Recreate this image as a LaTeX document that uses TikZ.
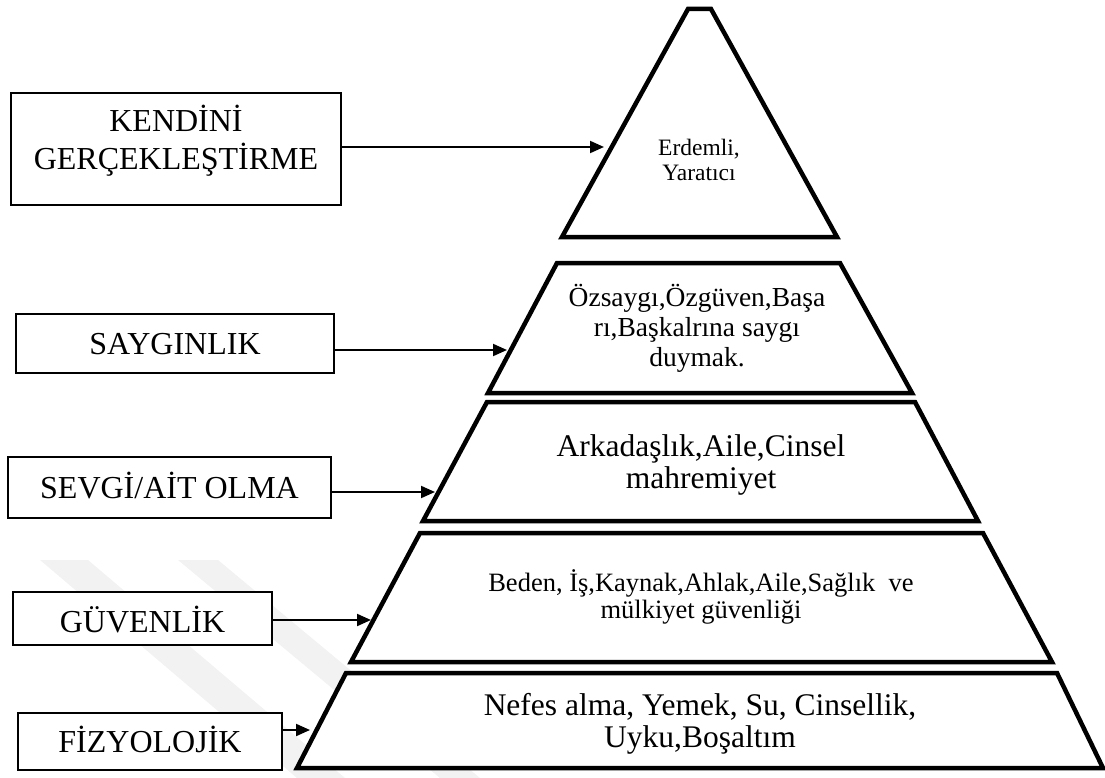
\documentclass[tikz,border=0pt]{standalone}
\usepackage{fontspec}
\setmainfont{Liberation Serif}
\usetikzlibrary{arrows.meta}
\begin{document}
\begin{tikzpicture}[x=1pt,y=-1pt,
  layer/.style={draw, line width=4.5pt, fill=white, line join=miter},
  lbox/.style={draw, line width=1.8pt, fill=white, inner sep=0pt, align=center,
    font=\fontsize{32}{38}\selectfont, text height=21pt, text depth=0pt},
  conn/.style={line width=2pt, -{Triangle[length=14pt,width=12pt]}},
  wmark/.style={fill=black!5},
  ptext/.style={align=center, inner sep=0pt}
  ]
\useasboundingbox (0,0) rectangle (1105,778);
% faint watermark bands
\fill[wmark] (40,560) -- (88,560) -- (345,778) -- (297,778) -- cycle;
\fill[wmark] (178,560) -- (218,560) -- (480,778) -- (440,778) -- cycle;
% pyramid layers
\draw[layer] (562,237) -- (688,9) -- (711,9) -- (837,237) -- cycle;
\draw[layer] (488,393) -- (557,263) -- (840,263) -- (912,393) -- cycle;
\draw[layer] (423,521) -- (487,402) -- (915,402) -- (978,521) -- cycle;
\draw[layer] (351,662) -- (420,533) -- (983,533) -- (1052,662) -- cycle;
\draw[layer] (297,768) -- (346,673) -- (1057,673) -- (1103,768) -- cycle;
% pyramid texts
\node[ptext, font=\fontsize{23.5}{25}\selectfont] (x1) at (699,159.5) {Erdemli,\\Yaratıcı};
\node[ptext, font=\fontsize{27.5}{30}\selectfont] (x2) at (697,328.3) {Özsaygı,Özgüven,Başa\\rı,Başkalrına saygı\\duymak.};
\node[ptext, font=\fontsize{31.5}{32}\selectfont] (x3) at (701,464.6) {Arkadaşlık,Aile,Cinsel\\mahremiyet};
\node[ptext, font=\fontsize{26.5}{26.3}\selectfont] (x4) at (701,597) {Beden, İş,Kaynak,Ahlak,Aile,Sağlık~ ve\\mülkiyet güvenliği};
\node[ptext, font=\fontsize{31.5}{32}\selectfont] (x5) at (700,723.7) {Nefes alma, Yemek, Su, Cinsellik,\\Uyku,Boşaltım};
% label boxes
\node[lbox, text height=, text depth=, minimum width=330pt, minimum height=112pt] (b1) at (176,149) {KENDİNİ\\GERÇEKLEŞTİRME\rule[-23pt]{0pt}{23pt}};
\node[lbox, minimum width=318pt, minimum height=59pt] (b2) at (175,343.5) {SAYGINLIK};
\node[lbox, minimum width=323pt, minimum height=61pt] (b3) at (169.5,487.5) {SEVGİ/AİT OLMA};
\node[lbox, text height=27pt, minimum width=259pt, minimum height=53pt] (b4) at (142.5,618.5) {GÜVENLİK};
\node[lbox, minimum width=264pt, minimum height=57pt] (b5) at (150,741.5) {FİZYOLOJİK};
% arrow targets on the layer edges
\coordinate (t1) at (604,147);
\coordinate (t2) at (507,350);
\coordinate (t3) at (435,492);
\coordinate (t4) at (371,620);
\coordinate (t5) at (310,730);
\draw[conn] (b1.east |- t1) -- (t1);
\draw[conn] (b2.east |- t2) -- (t2);
\draw[conn] (b3.east |- t3) -- (t3);
\draw[conn] (b4.east |- t4) -- (t4);
\draw[conn] (b5.east |- t5) -- (t5);
\end{tikzpicture}
\end{document}
